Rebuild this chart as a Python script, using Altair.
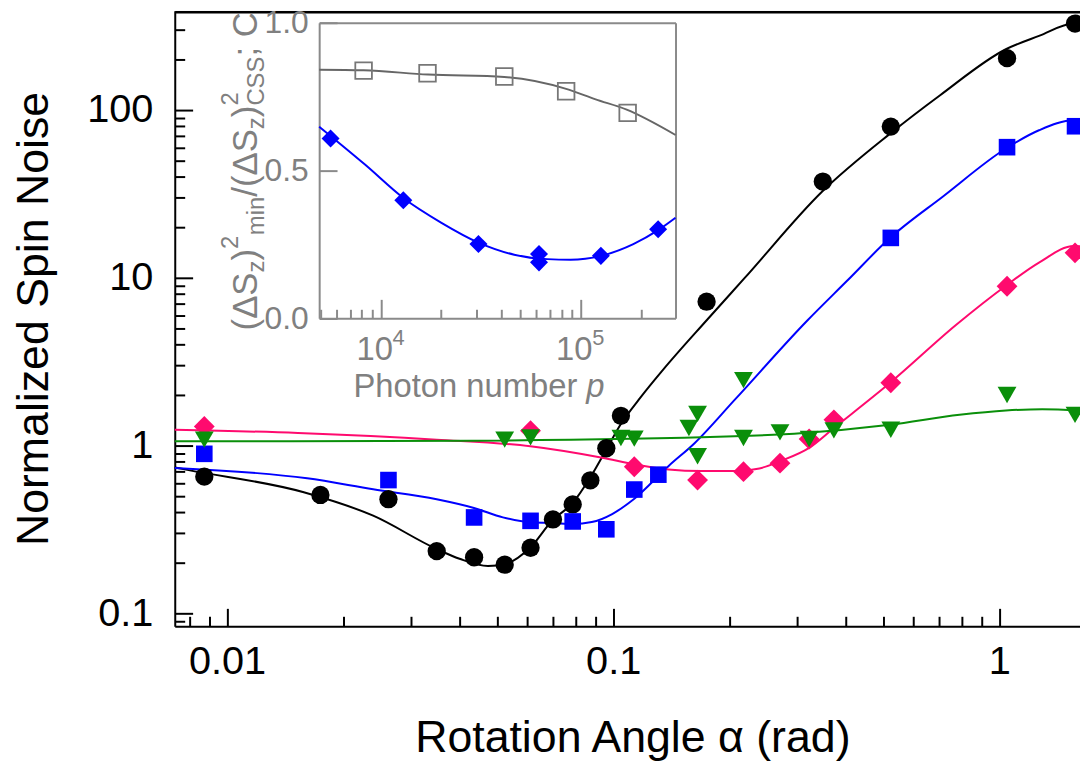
import altair as alt
import pandas as pd

FONT = "Liberation Sans"
GRAY_TXT = "#808080"
GRAY_AX = "#8a8a8a"

# ---------------- main panel data ----------------
black_angle = [0.00873, 0.01745, 0.02618, 0.03491, 0.04363, 0.05236, 0.06109, 0.06981,
               0.07854, 0.08727, 0.09599, 0.10472, 0.17453, 0.34907, 0.5236, 1.0472, 1.5708]
black_noise = [0.653, 0.508, 0.479, 0.235, 0.216, 0.195, 0.246, 0.363,
               0.446, 0.621, 0.964, 1.505, 7.21, 37.5, 79.7, 204, 328]

blue_angle = [0.00873, 0.02618, 0.04363, 0.06109, 0.07854, 0.09599, 0.1134, 0.1309,
              0.5236, 1.0472, 1.5708]
blue_noise = [0.893, 0.623, 0.373, 0.356, 0.353, 0.317, 0.547, 0.671, 17.3, 60.1, 80.1]

pink_angle = [0.00873, 0.06109, 0.1134, 0.1654, 0.2175, 0.2704, 0.3217, 0.3729,
              0.5236, 1.0472, 1.5708]
pink_noise = [1.30, 1.227, 0.748, 0.623, 0.699, 0.786, 1.095, 1.425, 2.37, 8.91, 14.1]

green_angle = [0.00873, 0.05236, 0.06109, 0.10472, 0.1134, 0.1571, 0.1654, 0.1654,
               0.2175, 0.2175, 0.2704, 0.3217, 0.3729, 0.5236, 1.0472, 1.5708]
green_noise = [1.085, 1.085, 1.12, 1.11, 1.10, 1.273, 1.546, 0.864,
               2.458, 1.11, 1.199, 1.095, 1.232, 1.243, 2.003, 1.525]

black_fit_angle = [0.00732, 0.00795, 0.0158, 0.0239, 0.0348, 0.0400, 0.0474, 0.0528, 0.0609,
                   0.0697, 0.0785, 0.0873, 0.0960, 0.1044, 0.1180, 0.1344, 0.1744, 0.2188,
                   0.3478, 0.5215, 0.7012, 1.040, 1.267, 1.559, 1.618]
black_fit_noise = [0.741, 0.714, 0.527, 0.382, 0.2425, 0.2115, 0.1915, 0.1977, 0.2458,
                   0.360, 0.454, 0.647, 0.947, 1.33, 1.95, 2.817, 5.568, 9.95,
                   32.7, 72.4, 122.2, 230.5, 276.7, 328.6, 327.0]

blue_fit_angle = [0.00732, 0.01612, 0.0239, 0.0349, 0.0436, 0.0518, 0.0610, 0.0697, 0.0785,
                  0.0880, 0.0994, 0.1130, 0.139, 0.1627, 0.2063, 0.3183, 0.4034, 0.5215,
                  0.7148, 1.040, 1.267, 1.559, 1.618]
blue_fit_noise = [0.736, 0.638, 0.549, 0.479, 0.425, 0.3735, 0.3488, 0.3455, 0.3407,
                  0.350, 0.391, 0.479, 0.754, 1.037, 1.872, 5.568, 9.60, 17.32,
                  30.56, 59.0, 75.8, 86.9, 86.5]

pink_fit_angle = [0.00732, 0.01526, 0.0349, 0.0610, 0.0937, 0.1141, 0.139, 0.1693, 0.2063,
                  0.2391, 0.2704, 0.3217, 0.3729, 0.5215, 0.7735, 1.040, 1.267, 1.559, 1.618]
pink_fit_noise = [1.244, 1.189, 1.085, 0.9905, 0.846, 0.772, 0.721, 0.705, 0.705,
                  0.731, 0.807, 0.969, 1.273, 2.369, 5.25, 8.97, 12.32, 15.47, 15.45]

green_fit_angle = [0.00732, 0.0436, 0.2063, 0.2942, 0.5215, 0.789, 1.040, 1.292, 1.618]
green_fit_noise = [1.060, 1.070, 1.135, 1.178, 1.331, 1.525, 1.618, 1.649, 1.622]

x_major_ticks = [0.01, 0.1, 1]
x_minor_ticks = [0.008, 0.009, 0.02, 0.03, 0.04, 0.05, 0.06, 0.07, 0.08, 0.09,
                 0.2, 0.3, 0.4, 0.5, 0.6, 0.7, 0.8, 0.9]
y_major_ticks = [0.1, 1, 10, 100]
y_minor_ticks = [0.09, 0.2, 0.3, 0.4, 0.5, 0.6, 0.7, 0.8, 0.9, 2, 3, 4, 5, 6, 7, 8, 9,
                 20, 30, 40, 50, 60, 70, 80, 90, 200, 300]

# ---------------- inset data ----------------
css_photons = [8165, 17070, 41400, 84520, 171900]
css_ratio = [0.838, 0.829, 0.818, 0.768, 0.695]
css_fit_photons = [4890, 8165, 17190, 41400, 84520, 118800, 169960, 298600]
css_fit_ratio = [0.841, 0.839, 0.8245, 0.8164, 0.7762, 0.7406, 0.7057, 0.620]

sq_photons = [5577, 12910, 30730, 61800, 61800, 126200, 244300]
sq_ratio = [0.608, 0.399, 0.251, 0.217, 0.189, 0.211, 0.301]
sq_fit_photons = [4890, 8325, 12910, 20050, 30730, 46420, 67970, 88870, 126200, 183500,
                  244300, 298600]
sq_fit_ratio = [0.648, 0.519, 0.407, 0.323, 0.256, 0.215, 0.200, 0.198, 0.211, 0.251,
                0.298, 0.340]

p_major_ticks = [1e4, 1e5]
p_exponents = ["4", "5"]
p_minor_ticks = [5000, 6000, 7000, 8000, 9000, 20000, 30000, 40000, 50000, 60000,
                 70000, 80000, 90000, 200000]
r_ticks = [0.0, 0.5, 1.0]

# ---------------- geometry ----------------
W, H = 912, 620
xs = alt.Scale(type="log", domain=[0.00732, 1.618], nice=False)
ys = alt.Scale(type="log", domain=[0.0838, 390.6], nice=False)
ixs = alt.Scale(type="log", domain=[4890, 298600], range=[145.5, 504.5], nice=False)
iys = alt.Scale(type="linear", domain=[0, 1], range=[309.7, 12], nice=False, zero=False)


def df(a, b, na="angle", nb="noise"):
    return pd.DataFrame({na: a, nb: b})


def tick_axis(values, size, offset, orient, color="black"):
    return alt.Axis(orient=orient, values=values, grid=False, labels=False, ticks=True,
                    tickSize=size, tickWidth=2, tickColor=color, domain=False, title=None,
                    offset=offset)


def line_axis(orient, offset, color, width=2):
    return alt.Axis(orient=orient, grid=False, labels=False, ticks=False, domain=True,
                    domainColor=color, domainWidth=width, title=None, offset=offset)


x_lab = alt.Axis(orient="bottom", values=x_major_ticks, format="~g", grid=False, ticks=False,
                 tickSize=0, domain=True, domainColor="black", domainWidth=2,
                 labelFont=FONT, labelFontSize=40, labelColor="black", labelPadding=16,
                 labelFlush=False, labelOverlap=False,
                 title="Rotation Angle α (rad)", titleFont=FONT, titleFontSize=45,
                 titleFontWeight="normal", titleColor="black", titleX=461, titleY=126,
                 titleAlign="center", titleBaseline="alphabetic")
y_lab = alt.Axis(orient="left", values=y_major_ticks, format="~g", grid=False, ticks=False,
                 tickSize=0, domain=True, domainColor="black", domainWidth=2,
                 labelFont=FONT, labelFontSize=40, labelColor="black", labelPadding=22,
                 labelFlush=False, labelOverlap=False,
                 title="Normalized Spin Noise", titleFont=FONT, titleFontSize=45,
                 titleFontWeight="normal", titleColor="black", titleAngle=270,
                 titleX=-128, titleY=310, titleAlign="center", titleBaseline="alphabetic")


def main_line(d, color, xa, ya):
    return alt.Chart(d).mark_line(color=color, strokeWidth=2, interpolate="monotone").encode(
        x=alt.X("angle:Q", scale=xs, axis=xa), y=alt.Y("noise:Q", scale=ys, axis=ya))


def main_pts(mark):
    return mark.encode(x=alt.X("angle:Q", scale=xs, axis=None),
                       y=alt.Y("noise:Q", scale=ys, axis=None))


main = alt.layer(
    main_line(df(black_fit_angle, black_fit_noise), "black", x_lab, y_lab),
    main_line(df(blue_fit_angle, blue_fit_noise), "#0000ff",
              tick_axis(x_major_ticks, 18, -18, "bottom"),
              tick_axis(y_major_ticks, 18, -18, "left")),
    main_line(df(pink_fit_angle, pink_fit_noise), "#ff0a6e",
              tick_axis(x_minor_ticks, 10, -10, "bottom"),
              tick_axis(y_minor_ticks, 10, -10, "left")),
    main_line(df(green_fit_angle, green_fit_noise), "#0a8f0a",
              line_axis("top", -1, "black", 2.5), None),
    main_pts(alt.Chart(df(black_angle, black_noise)).mark_circle(
        size=340, color="black", opacity=1)),
    main_pts(alt.Chart(df(blue_angle, blue_noise)).mark_point(
        shape="square", size=280, filled=True, color="#0000ff", opacity=1)),
    main_pts(alt.Chart(df(pink_angle, pink_noise)).mark_point(
        shape="diamond", size=440, filled=True, color="#ff0a6e", opacity=1)),
    main_pts(alt.Chart(df(green_angle, green_noise)).mark_point(
        shape="triangle-down", size=360, filled=True, color="#0a8f0a", opacity=1)),
).resolve_axis(x="independent", y="independent")

ix_lab = alt.Axis(orient="bottom", values=p_major_ticks, labelExpr="'10'",
                  grid=False, ticks=False, tickSize=0, domain=True, domainColor=GRAY_AX,
                  domainWidth=2, labelFont=FONT, labelFontSize=33, labelColor=GRAY_TXT,
                  labelPadding=16, labelOffset=-7, labelFlush=False, labelOverlap=False,
                  title=None, offset=-310.3)
iy_lab = alt.Axis(orient="left", values=r_ticks, format=".1f", grid=False, ticks=False,
                  tickSize=0, domain=True, domainColor=GRAY_AX, domainWidth=2, labelFont=FONT,
                  labelFontSize=32, labelColor=GRAY_TXT, labelPadding=11,
                  labelFlush=False, labelOverlap=False, title=None, offset=-145.5)


def inset_enc(chart, xa, ya):
    return chart.encode(x=alt.X("photons:Q", scale=ixs, axis=xa),
                        y=alt.Y("ratio:Q", scale=iys, axis=ya))


inset = alt.layer(
    inset_enc(alt.Chart(df(css_fit_photons, css_fit_ratio, "photons", "ratio")).mark_line(
        color="#666666", strokeWidth=2, interpolate="monotone"), ix_lab, iy_lab),
    inset_enc(alt.Chart(df(sq_fit_photons, sq_fit_ratio, "photons", "ratio")).mark_line(
        color="#0000ff", strokeWidth=2, interpolate="monotone"),
        tick_axis(p_major_ticks, 19, -329.3, "bottom", GRAY_AX),
        tick_axis(r_ticks, 18, -163.5, "left", GRAY_AX)),
    inset_enc(alt.Chart(df(css_photons, css_ratio, "photons", "ratio")).mark_point(
        shape="square", size=280, filled=False, stroke="#777777", strokeWidth=1.8, opacity=1),
        tick_axis(p_minor_ticks, 9, -319.3, "bottom", GRAY_AX),
        line_axis("right", -(W - 504.5), GRAY_AX)),
    inset_enc(alt.Chart(df(sq_photons, sq_ratio, "photons", "ratio")).mark_point(
        shape="diamond", size=330, filled=True, color="#0000ff", opacity=1),
        line_axis("top", -12, GRAY_AX), None),
    alt.Chart(pd.DataFrame({"photons": p_major_ticks, "exp": p_exponents})).mark_text(
        align="left", baseline="alphabetic", dx=11.5, font=FONT, fontSize=22, color=GRAY_TXT
    ).encode(x=alt.X("photons:Q", scale=ixs, axis=None), y=alt.value(337), text="exp:N"),
).resolve_axis(x="independent", y="independent")

one = pd.DataFrame({"k": [0]})


def label(text, x, y, size, italic=False, angle=0):
    kw = dict(text=text, align="left", baseline="alphabetic", font=FONT, fontSize=size,
              color=GRAY_TXT)
    if angle:
        kw["angle"] = angle
    if italic:
        kw["fontStyle"] = "italic"
    return alt.Chart(one).mark_text(**kw).encode(x=alt.value(x), y=alt.value(y))


MAIN, SUB = 35, 24
texts = [
    label("(ΔS", 83, 322, MAIN, angle=270),
    label("z", 90, 263.6, SUB, angle=270),
    label(")", 83, 251.6, MAIN, angle=270),
    label("2", 64, 240, SUB, angle=270),
    label("min", 90, 226, SUB, angle=270),
    label("/(ΔS", 83, 187.3, MAIN, angle=270),
    label("z", 90, 119.2, SUB, angle=270),
    label(")", 83, 107.2, MAIN, angle=270),
    label("2", 64, 95.5, SUB, angle=270),
    label("CSS", 90, 95.5, SUB, angle=270),
    label("; C", 83, 46, MAIN, angle=270),
    label("Photon number", 180, 389, 33),
    label("p", 414.5, 389, 33, italic=True),
]

chart = alt.layer(main, inset, *texts).resolve_scale(
    x="independent", y="independent"
).properties(
    width=W, height=H,
    padding={"left": 168, "top": 0, "right": 0, "bottom": 140},
    autosize=alt.AutoSizeParams(type="none"),
    background="white",
).configure_view(stroke=None).configure(font=FONT)

chart.save("out.html", embed_options={"renderer": "svg", "actions": False})
